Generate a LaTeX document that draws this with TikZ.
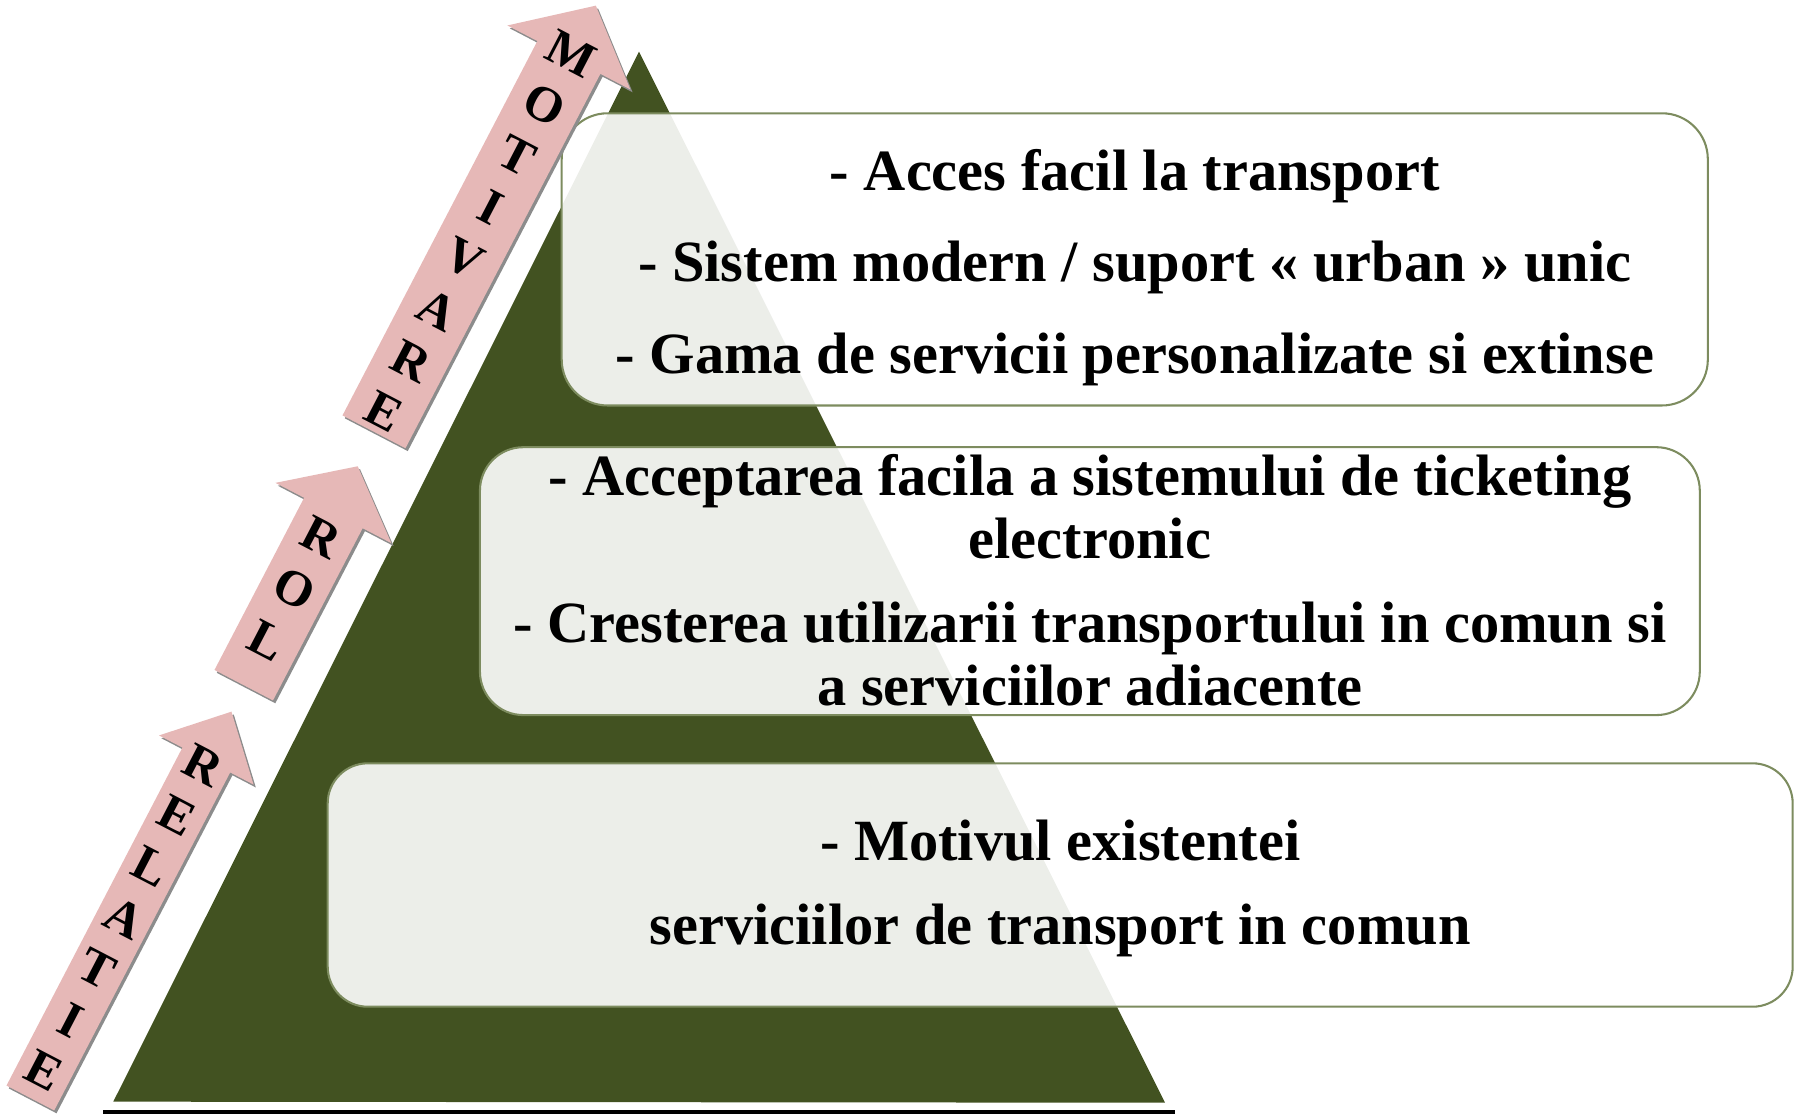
\documentclass[tikz,border=0pt]{standalone}
\usepackage{fontspec}
\setmainfont{Liberation Serif}
\definecolor{trigreen}{RGB}{66,82,33}
\definecolor{boxline}{RGB}{125,140,95}
\definecolor{arrowpink}{RGB}{230,184,183}
\definecolor{shadowgray}{RGB}{140,140,140}
\newcommand\pinkarrow[6]{%
  \fill[arrowshadow,shift={(#1+2,#2+2.5)},rotate=-27.5] (-#4,0) -- (-#4,-#3) -- (-#5,-#3) -- (0,-#3-#6) -- (#5,-#3) -- (#4,-#3) -- (#4,0) -- cycle;
  \fill[arrowfill,shift={(#1,#2)},rotate=-27.5] (-#4,0) -- (-#4,-#3) -- (-#5,-#3) -- (0,-#3-#6) -- (#5,-#3) -- (#4,-#3) -- (#4,0) -- cycle;
}
\begin{document}
\begin{tikzpicture}[x=1pt,y=-1pt,
  boxnode/.style={draw=boxline, line width=1.8pt, fill=white, fill opacity=0.9, rounded corners=#1, inner sep=0pt, shape=rectangle},
  boxtext/.style={font=\fontsize{51}{55}\selectfont\bfseries, anchor=base, inner sep=0pt},
  letterstyle/.style={font=\fontsize{44}{44}\selectfont\bfseries, inner sep=0pt, transform shape},
  arrowfill/.style={fill=arrowpink},
  arrowshadow/.style={fill=shadowgray}]
\useasboundingbox (0,0) rectangle (1568,972.6);

% pyramid
\fill[trigreen] (557.9,45.1) -- (98.9,961.8) -- (1017.1,962.7) -- cycle;
\coordinate (baseL) at (90.2,970.6);
\coordinate (baseR) at (1025.9,970.6);
\draw[line width=3.5pt, black] (baseL) -- (baseR);

% boxes
\node[boxnode=40pt, minimum width=1000.6pt, minimum height=255.1pt] (topbox) at (990.7,226.45) {};
\node[boxnode=38pt, minimum width=1065pt, minimum height=233.9pt] (midbox) at (951.5,507.35) {};
\node[boxnode=35pt, minimum width=1279pt, minimum height=212.5pt] (botbox) at (925.6,772.65) {};

% texts
\node[boxtext] (t1) at (990.7,166) {- Acces facil la transport};
\node[boxtext] (t2) at (990.7,246) {- Sistem modern / suport « urban » unic};
\node[boxtext] (t3) at (990.7,326) {- Gama de servicii personalizate si extinse};
\node[boxtext] (m1) at (951.5,433) {- Acceptarea facila a sistemului de ticketing};
\node[boxtext] (m2) at (951.5,488) {electronic};
\node[boxtext] (m3) at (951.5,561) {- Cresterea utilizarii transportului in comun si};
\node[boxtext] (m4) at (951.5,616) {a serviciilor adiacente};
\node[boxtext] (b1) at (925.6,751) {- Motivul existentei};
\node[boxtext] (b2) at (925.6,825) {serviciilor de transport in comun};

% arrows
\pinkarrow{326.5}{377}{368.5}{31}{60.5}{51}
\pinkarrow{212.8}{598.2}{169.5}{28.8}{57}{46}
\pinkarrow{26.5}{958.6}{332.7}{23.5}{46.5}{47.6}

\begin{scope}[shift={(326.5,377)},rotate=-27.5]
  \foreach \c/\s/\n in {M/372.2/1,O/321.8/2,T/271.4/3,I/221.0/4,V/170.6/5,A/120.2/6,R/69.8/7,E/19.4/8}
    \node[letterstyle] (mot\n) at (0,-\s) {\c};
\end{scope}
\begin{scope}[shift={(212.8,598.2)},rotate=-27.5]
  \foreach \c/\s/\n in {R/146.0/1,O/95.1/2,L/44.2/3}
    \node[letterstyle] (rol\n) at (0,-\s) {\c};
\end{scope}
\begin{scope}[shift={(26.5,958.6)},rotate=-27.5]
  \foreach \c/\s/\n in {R/327.7/1,E/277.5/2,L/227.3/3,A/177.1/4,T/126.9/5,I/76.7/6,E/26.5/7}
    \node[letterstyle] (rel\n) at (0,-\s) {\c};
\end{scope}
\end{tikzpicture}
\end{document}
